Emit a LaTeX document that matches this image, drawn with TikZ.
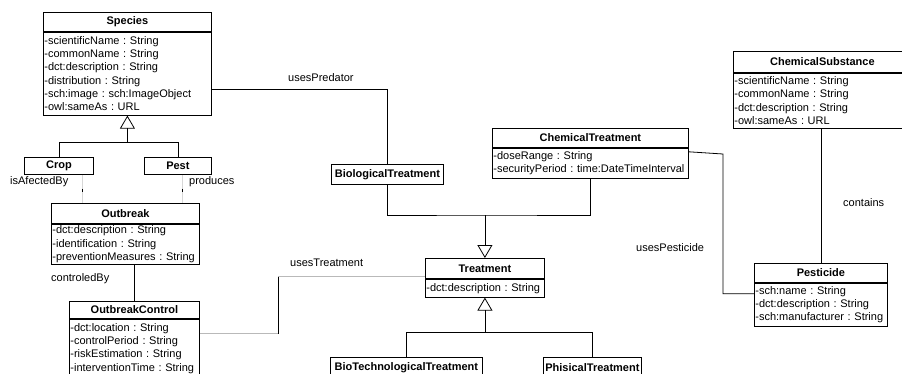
\documentclass[tikz,border=0pt]{standalone}
\usepackage{fontspec}
\setmainfont{Liberation Sans}
\usepackage{tikz}
\usetikzlibrary{positioning, calc, arrows.meta}
\definecolor{LineGray}{RGB}{185,185,185}
\definecolor{FaintGray}{RGB}{215,215,215}
\newcommand{\umlfont}{\fontsize{11}{13.3}\selectfont\frenchspacing}
\tikzset{
    classnode/.style={
        draw, line width=0.8pt, font=\umlfont\bfseries, inner sep=0pt,
        anchor=north west, minimum height=19
    },
    attrnode/.style={
        draw, line width=0.8pt, font=\umlfont, align=left, inner xsep=1pt,
        inner ysep=0pt, anchor=north west
    },
    assoc/.style={
        line width=0.8pt, black
    },
    grayassoc/.style={
        line width=0.8pt, LineGray
    },
    faintassoc/.style={
        line width=0.8pt, FaintGray
    },
    inherit/.style={
        -{Triangle[open, length=13pt, width=15pt]}, line width=0.8pt
    },
    labelassoc/.style={
        font=\umlfont, inner sep=0pt, anchor=west
    }
}

\begin{document}
\frenchspacing
\begin{tikzpicture}[x=1pt, y=-1pt]
    \useasboundingbox (0,0) rectangle (902,373);
    \clip (0,0) rectangle (902,373);

    % --- classes ---
    \node[classnode, minimum width=168] (speciesT) at (43,12) {Species};
    \node[attrnode, text width=166, minimum height=83] (speciesA) at (speciesT.south west)
        {-scientificName : String\\-commonName : String\\-dct:description : String\\-distribution : String\\-sch:image : sch:ImageObject\\-owl:sameAs : URL};

    \node[classnode, minimum width=69, minimum height=17] (cropT) at (24,157) {Crop};
    \node[classnode, minimum width=67, minimum height=17] (pestT) at (144,157) {Pest};

    \node[classnode, minimum width=148, minimum height=20] (outbreakT) at (51,203) {Outbreak};
    \node[attrnode, text width=146, minimum height=40] (outbreakA) at (outbreakT.south west)
        {-dct:description : String\\-identification : String\\-preventionMeasures : String};

    \node[classnode, minimum width=130, minimum height=17] (ocT) at (69,301) {OutbreakControl};
    \node[attrnode, text width=128, minimum height=58] (ocA) at (ocT.south west)
        {-dct:location : String\\-controlPeriod : String\\-riskEstimation : String\\-interventionTime : String};

    \node[classnode, minimum width=112, minimum height=20] (bioT) at (331,164) {BiologicalTreatment};

    \node[classnode, minimum width=196] (chemT) at (492,128) {ChemicalTreatment};
    \node[attrnode, text width=194, minimum height=30] (chemTA) at (chemT.south west)
        {-doseRange : String\\-securityPeriod : time:DateTimeInterval};

    \node[classnode, minimum width=119, minimum height=20] (treatmentT) at (425,258) {Treatment};
    \node[attrnode, text width=117, minimum height=18] (treatmentA) at (treatmentT.south west)
        {-dct:description : String};

    \node[classnode, minimum width=152, minimum height=20] (biotechT) at (330,357) {BioTechnologicalTreatment};
    \node[classnode, minimum width=98, minimum height=20] (phisT) at (543,357) {PhisicalTreatment};

    \node[classnode, minimum width=178, minimum height=21] (chemSubT) at (733,51) {ChemicalSubstance};
    \node[attrnode, text width=176, minimum height=55] (chemSubA) at (chemSubT.south west)
        {-scientificName : String\\-commonName : String\\-dct:description : String\\-owl:sameAs : URL};

    \node[classnode, minimum width=133] (pesticideT) at (754,263) {Pesticide};
    \node[attrnode, text width=131, minimum height=43] (pesticideA) at (pesticideT.south west)
        {-sch:name : String\\-dct:description : String\\-sch:manufacturer : String};

    % --- generalizations ---
    \coordinate (speciesbar) at ($(speciesA.south)+(0,27)$);
    \draw[assoc] (cropT.north) |- (speciesbar) -| (pestT.north);
    \draw[inherit] (speciesbar) -- (speciesA.south);

    \coordinate (treatbar) at ($(treatmentT.north)+(0,-43)$);
    \draw[assoc] (bioT.south) |- (treatbar) -| (chemTA.south);
    \draw[inherit] (treatbar) -- (treatmentT.north);

    \coordinate (subbar) at ($(treatmentA.south)+(0,35)$);
    \draw[assoc] (biotechT.north) |- (subbar) -| (phisT.north);
    \draw[inherit] (subbar) -- (treatmentA.south);

    % --- associations ---
    \coordinate (afect) at ([xshift=-11]cropT.south east);
    \draw[faintassoc] (afect) -- (afect |- outbreakT.north);
    \draw[assoc] ($(afect)+(0,14)$) -- ++(0,3);
    \coordinate (prod) at ([xshift=38]pestT.south west);
    \draw[faintassoc] (prod) -- (prod |- outbreakT.north);
    \draw[assoc] ($(prod)+(0,14)$) -- ++(0,3);

    \draw[assoc] (ocT.north) -- (ocT.north |- outbreakA.south);

    \coordinate (predstart) at ($(speciesA.east)+(0,15.5)$);
    \draw[assoc] (predstart) -| (bioT.north);

    \coordinate (treatstart) at ($(ocA.north east)+(0,15)$);
    \coordinate (treatend) at ($(treatmentT.south west)+(0,-2)$);
    \coordinate (treatmid) at (278,0);
    \draw[grayassoc] (treatstart) -- (treatstart -| treatmid);
    \draw[assoc] (treatstart -| treatmid) -- (treatend -| treatmid);
    \draw[grayassoc] (treatend -| treatmid) -- (treatend);

    \coordinate (pststart) at ($(chemTA.north east)+(0,4)$);
    \coordinate (pstbend) at (723,154);
    \coordinate (pstend) at ($(pesticideA.north west)+(0,11)$);
    \draw[assoc] (pststart) -- (pstbend) |- (pstend);

    \draw[assoc] (pesticideT.north) -- (pesticideT.north |- chemSubA.south);

    % --- labels ---
    \node[labelassoc] (predlbl) at (288,78) {usesPredator};
    \node[labelassoc] (afectlbl) at (10,182) {isAfectedBy};
    \node[labelassoc] (prodlbl) at (189,182) {produces};
    \node[labelassoc] (ctrllbl) at (51,279) {controledBy};
    \node[labelassoc] (treatlbl) at (290,263) {usesTreatment};
    \node[labelassoc] (pstlbl) at (636,248) {usesPesticide};
    \node[labelassoc] (containslbl) at (843,203) {contains};
\end{tikzpicture}
\end{document}
